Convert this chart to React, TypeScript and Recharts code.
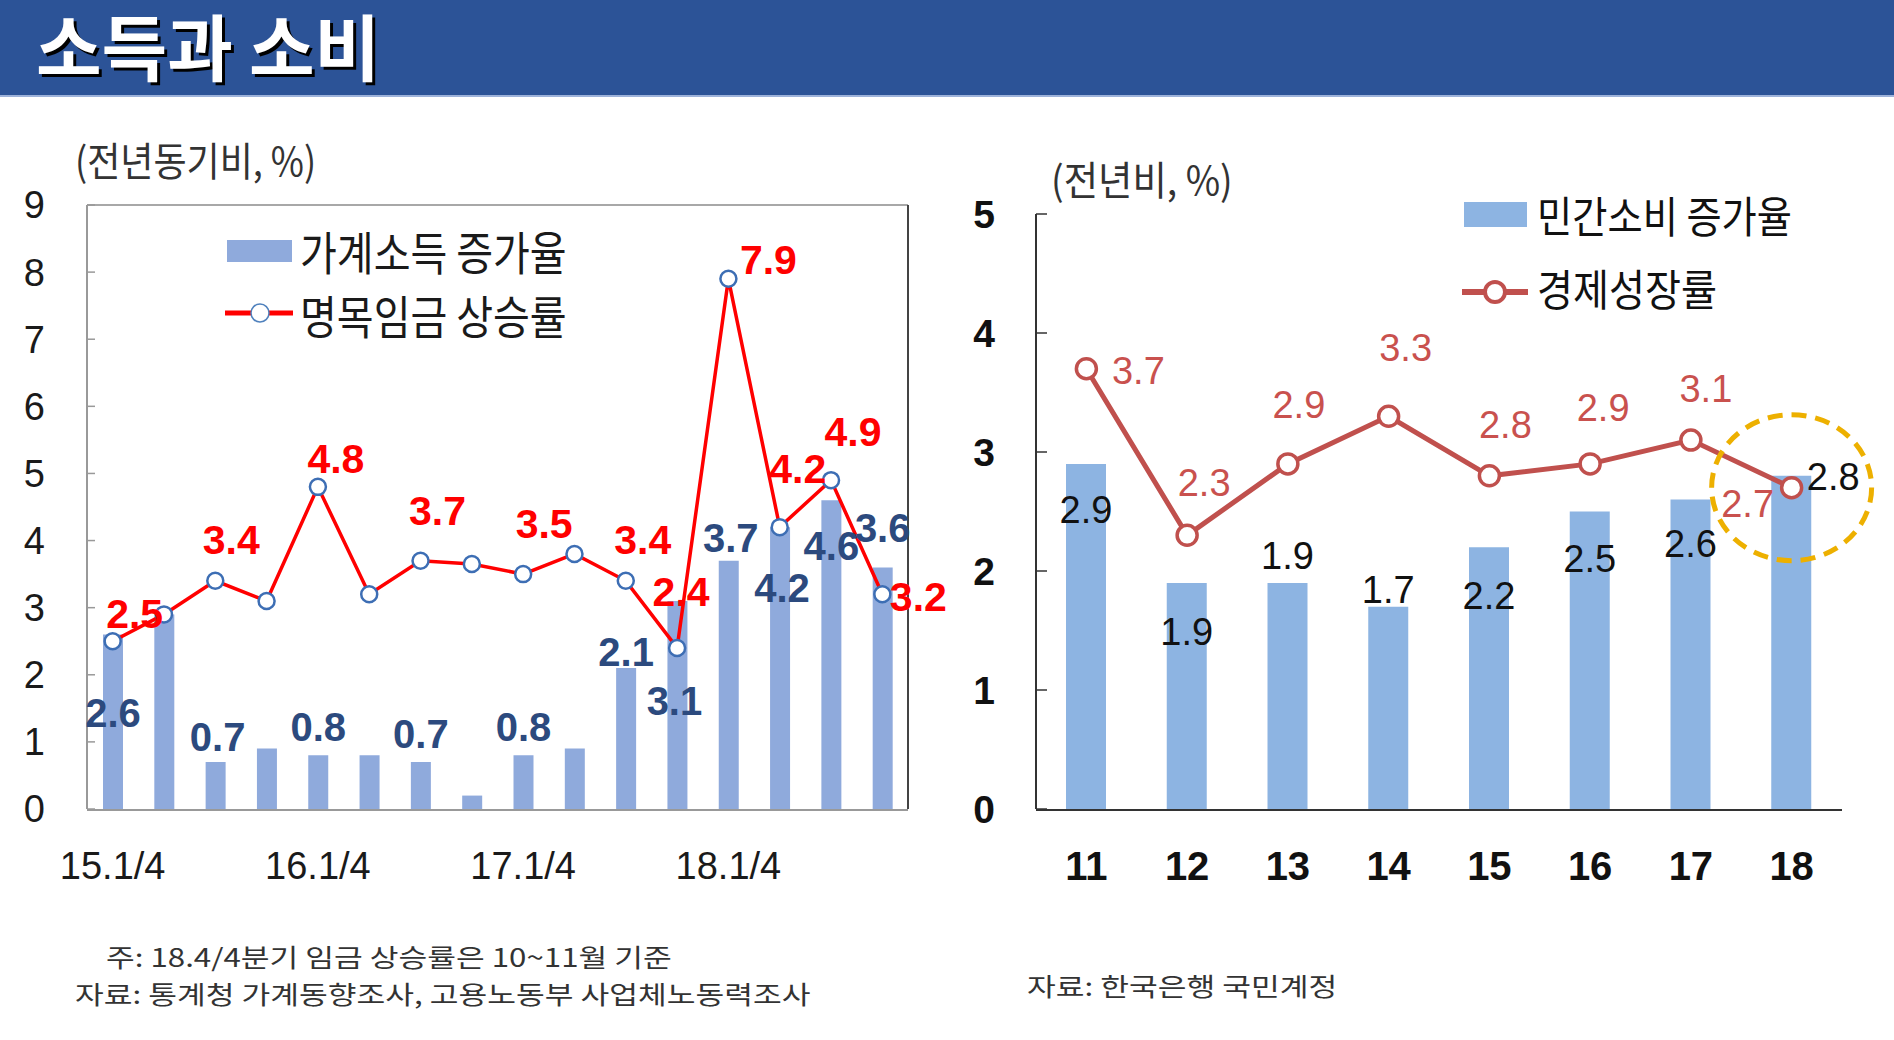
import React from "react";
import { ComposedChart, Bar, Line, XAxis, YAxis, LabelList, ReferenceDot } from "recharts";

// left panel: household income vs nominal wage, quarterly (y/y %)
const quarters = [
  "15.1/4", "15.2/4", "15.3/4", "15.4/4",
  "16.1/4", "16.2/4", "16.3/4", "16.4/4",
  "17.1/4", "17.2/4", "17.3/4", "17.4/4",
  "18.1/4", "18.2/4", "18.3/4", "18.4/4",
];
const householdIncome = [2.6, 2.9, 0.7, 0.9, 0.8, 0.8, 0.7, 0.2, 0.8, 0.9, 2.1, 3.1, 3.7, 4.2, 4.6, 3.6];
const nominalWage = [2.5, 2.9, 3.4, 3.1, 4.8, 3.2, 3.7, 3.65, 3.5, 3.8, 3.4, 2.4, 7.9, 4.2, 4.9, 3.2];
const quarterLabelShown = [true, false, true, false, true, false, true, false, true, false, true, true, true, true, true, true];
const quarterTicks = ["15.1/4", "16.1/4", "17.1/4", "18.1/4"];
const leftYTicks = [0, 1, 2, 3, 4, 5, 6, 7, 8, 9];

// right panel: private consumption vs GDP growth, yearly (%)
const years = ["11", "12", "13", "14", "15", "16", "17", "18"];
const privateConsumption = [2.9, 1.9, 1.9, 1.7, 2.2, 2.5, 2.6, 2.8];
const gdpGrowth = [3.7, 2.3, 2.9, 3.3, 2.8, 2.9, 3.1, 2.7];
const rightYTicks = [0, 1, 2, 3, 4, 5];

// label nudges (dx, dy) relative to point / bar top
type Offset = [number, number];
const wageLabelOffset: Offset[] = [
  [22, -27], [0, 0], [16, -41], [0, 0], [18, -28], [0, 0], [17, -50], [0, 0],
  [21, -50], [0, 0], [17, -41], [4, -56], [40, -19], [18, -58], [22, -48], [36, 3],
];
const incomeLabelOffset: Offset[] = [
  [0, 78], [0, 0], [2, -25], [0, 0], [0, -28], [0, 0], [0, -28], [0, 0],
  [0, -28], [0, 0], [0, -16], [-3, 100], [2, -23], [2, 61], [0, 46], [0, -39],
];
const growthLabelOffset: Offset[] = [[52, 2], [17, -52], [11, -59], [17, -68], [16, -51], [13, -56], [15, -51], [-44, 16]];
const consumptionLabelOffset: Offset[] = [[0, 46], [0, 49], [0, -27], [0, -17], [0, 49], [0, 47], [0, 44], [42, 1]];

const KR = "'Noto Sans CJK KR', 'Noto Sans', sans-serif";
const NARROW = "'Liberation Sans Narrow', 'Arial Narrow', 'Liberation Sans', sans-serif";

const incomeWageData = quarters.map((q, i) => ({ q, income: householdIncome[i], wage: nominalWage[i] }));
const consumptionData = years.map((year, i) => ({ year, consumption: privateConsumption[i], growth: gdpGrowth[i] }));

function offsetLabel(offsets: Offset[], shown: boolean[] | null, onBar: boolean, style: any) {
  return (props: any) => {
    const i = props.index;
    if (shown && !shown[i]) return null;
    const [dx, dy] = offsets[i];
    const x = Number(props.x) + (onBar ? Number(props.width) / 2 : 0) + dx;
    const y = Number(props.y) + dy;
    return (
      <text x={x} y={y} textAnchor="middle" dominantBaseline="central" fontFamily={NARROW} {...style}>
        {Number(props.value).toFixed(1)}
      </text>
    );
  };
}

// y is the visual centre of the hangul glyphs
function Txt({ x, y, size, sx = 1, weight = 400, color = "#222", style, children }: any) {
  return (
    <div
      style={{
        position: "absolute", left: x, top: y - size * 0.75, fontSize: size, lineHeight: "normal",
        fontFamily: KR, fontWeight: weight, color, whiteSpace: "nowrap",
        transform: `scaleX(${sx})`, transformOrigin: "left center", ...style,
      }}
    >
      {children}
    </div>
  );
}

function IncomeWageChart() {
  return (
    <ComposedChart width={950} height={800} data={incomeWageData} margin={{ top: 108, right: 41, bottom: 26, left: 27 }}>
      <XAxis xAxisId="grid" type="number" domain={[0, 16]} allowDataOverflow ticks={Array.from({ length: 17 }, (_, i) => i)}
        interval={0} height={1} tick={false} axisLine={false} tickSize={-13} tickLine={{ stroke: "#9a9a9a", strokeWidth: 1.5 }} />
      <XAxis xAxisId="main" dataKey="q" ticks={quarterTicks} interval={0} height={60} tickLine={false}
        axisLine={{ stroke: "#999", strokeWidth: 2 }} tickMargin={36}
        tick={{ fontSize: 38, fill: "#1a1a1a", fontFamily: NARROW }} />
      <XAxis xAxisId="top" orientation="top" dataKey="q" height={1} tick={false} tickLine={false}
        axisLine={{ stroke: "#a8a8a8", strokeWidth: 2 }} />
      <YAxis yAxisId="v" domain={[0, 9]} ticks={leftYTicks} width={60} tickSize={-8} tickMargin={50}
        axisLine={{ stroke: "#999", strokeWidth: 2 }} tickLine={{ stroke: "#999", strokeWidth: 1.5 }}
        tick={{ fontSize: 38, fill: "#1a1a1a", fontFamily: NARROW }} />
      <YAxis yAxisId="rb" orientation="right" domain={[0, 9]} width={1} tick={false} tickLine={false}
        axisLine={{ stroke: "#444", strokeWidth: 2 }} />
      <Bar xAxisId="main" yAxisId="v" dataKey="income" fill="#8FAADC" barSize={20} isAnimationActive={false}>
        <LabelList dataKey="income" content={offsetLabel(incomeLabelOffset, quarterLabelShown, true, { fontSize: 40, fontWeight: 700, fill: "#2C4A7E" })} />
      </Bar>
      <Line xAxisId="main" yAxisId="v" dataKey="wage" stroke="#FF0000" strokeWidth={3.5} isAnimationActive={false}
        dot={{ r: 8, fill: "#fff", stroke: "#3D6EB4", strokeWidth: 2.5 }}>
        <LabelList dataKey="wage" content={offsetLabel(wageLabelOffset, quarterLabelShown, false, { fontSize: 41, fontWeight: 700, fill: "#FF0000" })} />
      </Line>
    </ComposedChart>
  );
}

function ConsumptionChart() {
  const last = years.length - 1;
  return (
    <ComposedChart width={944} height={800} data={consumptionData} margin={{ top: 118, right: 52, bottom: 26, left: 26 }}>
      <XAxis xAxisId="grid" type="number" domain={[0, 8]} allowDataOverflow ticks={[1, 2, 3, 4, 5, 6, 7, 8]}
        interval={0} height={1} tick={false} axisLine={false} tickSize={-19} tickLine={{ stroke: "#333", strokeWidth: 1.5 }} />
      <XAxis xAxisId="main" dataKey="year" interval={0} height={60} tickLine={false}
        axisLine={{ stroke: "#333", strokeWidth: 2 }} tickMargin={36}
        tick={{ fontSize: 40, fontWeight: 700, fill: "#111", fontFamily: NARROW }} />
      <YAxis yAxisId="v" domain={[0, 5]} ticks={rightYTicks} width={60} tickSize={-11} tickMargin={52}
        axisLine={{ stroke: "#333", strokeWidth: 2 }} tickLine={{ stroke: "#333", strokeWidth: 1.5 }}
        tick={{ fontSize: 39, fontWeight: 700, fill: "#111", fontFamily: NARROW }} />
      <Bar xAxisId="main" yAxisId="v" dataKey="consumption" fill="#8DB4E2" barSize={40} isAnimationActive={false}>
        <LabelList dataKey="consumption" content={offsetLabel(consumptionLabelOffset, null, true, { fontSize: 38, fill: "#111" })} />
      </Bar>
      <Line xAxisId="main" yAxisId="v" dataKey="growth" stroke="#C0504D" strokeWidth={5} isAnimationActive={false}
        dot={{ r: 10, fill: "#fff", stroke: "#C0504D", strokeWidth: 3.5 }}>
        <LabelList dataKey="growth" content={offsetLabel(growthLabelOffset, null, false, { fontSize: 38, fill: "#C9514E" })} />
      </Line>
      <ReferenceDot xAxisId="main" yAxisId="v" x={years[last]} y={gdpGrowth[last]} r={78} ifOverflow="visible"
        shape={(p: any) => (
          <ellipse cx={p.cx} cy={p.cy} rx={80} ry={73} fill="none" stroke="#EDB000" strokeWidth={5} strokeDasharray="15 9" />
        )} />
    </ComposedChart>
  );
}

export default function App() {
  return (
    <div style={{ position: "absolute", left: 0, top: 0, width: 1894, height: 1040, background: "#fff", overflow: "hidden" }}>
      <div style={{ position: "absolute", left: 0, top: 0, width: 1894, height: 95, background: "#2C5397", borderBottom: "2px solid #9DB2DA" }} />
      <Txt x={36} y={48} size={72} sx={0.99} weight={700} color="#fff"
        style={{ top: 8, lineHeight: "72px", textShadow: "3px 3px 0 #000" }}>소득과 소비</Txt>

      <div style={{ position: "absolute", left: 0, top: 96 }}>
        <IncomeWageChart />
      </div>
      <div style={{ position: "absolute", left: 950, top: 96 }}>
        <ConsumptionChart />
      </div>

      {/* axis units */}
      <Txt x={75} y={160} size={40} sx={0.9} color="#333">(전년동기비, %)</Txt>
      <Txt x={1051} y={179} size={40} sx={0.935} color="#333">(전년비, %)</Txt>

      {/* left legend */}
      <div style={{ position: "absolute", left: 227, top: 240, width: 65, height: 22, background: "#8FAADC" }} />
      <Txt x={300} y={251} size={46} sx={0.87} color="#1a1a1a">가계소득 증가율</Txt>
      <svg style={{ position: "absolute", left: 220, top: 300 }} width={80} height={26}>
        <line x1={5} y1={13} x2={73} y2={13} stroke="#FF0000" strokeWidth={5} />
        <circle cx={40} cy={13} r={9} fill="#fff" stroke="#4F81BD" strokeWidth={1.5} />
      </svg>
      <Txt x={300} y={315} size={46} sx={0.87} color="#1a1a1a">명목임금 상승률</Txt>

      {/* right legend */}
      <div style={{ position: "absolute", left: 1464, top: 202, width: 63, height: 25, background: "#8DB4E2" }} />
      <Txt x={1537} y={215} size={43} sx={0.89} color="#111">민간소비 증가율</Txt>
      <svg style={{ position: "absolute", left: 1458, top: 276 }} width={76} height={32}>
        <line x1={4} y1={16} x2={70} y2={16} stroke="#C0504D" strokeWidth={6} />
        <circle cx={37} cy={16} r={10} fill="#fff" stroke="#C0504D" strokeWidth={4} />
      </svg>
      <Txt x={1537} y={288} size={43} sx={0.91} color="#111">경제성장률</Txt>

      {/* footnotes */}
      <Txt x={106} y={957} size={25} sx={1.25} color="#333">주: 18.4/4분기 임금 상승률은 10~11월 기준</Txt>
      <Txt x={75} y={994} size={25} sx={1.25} color="#333">자료: 통계청 가계동향조사, 고용노동부 사업체노동력조사</Txt>
      <Txt x={1027} y={986} size={25} sx={1.25} color="#333">자료: 한국은행 국민계정</Txt>
    </div>
  );
}
